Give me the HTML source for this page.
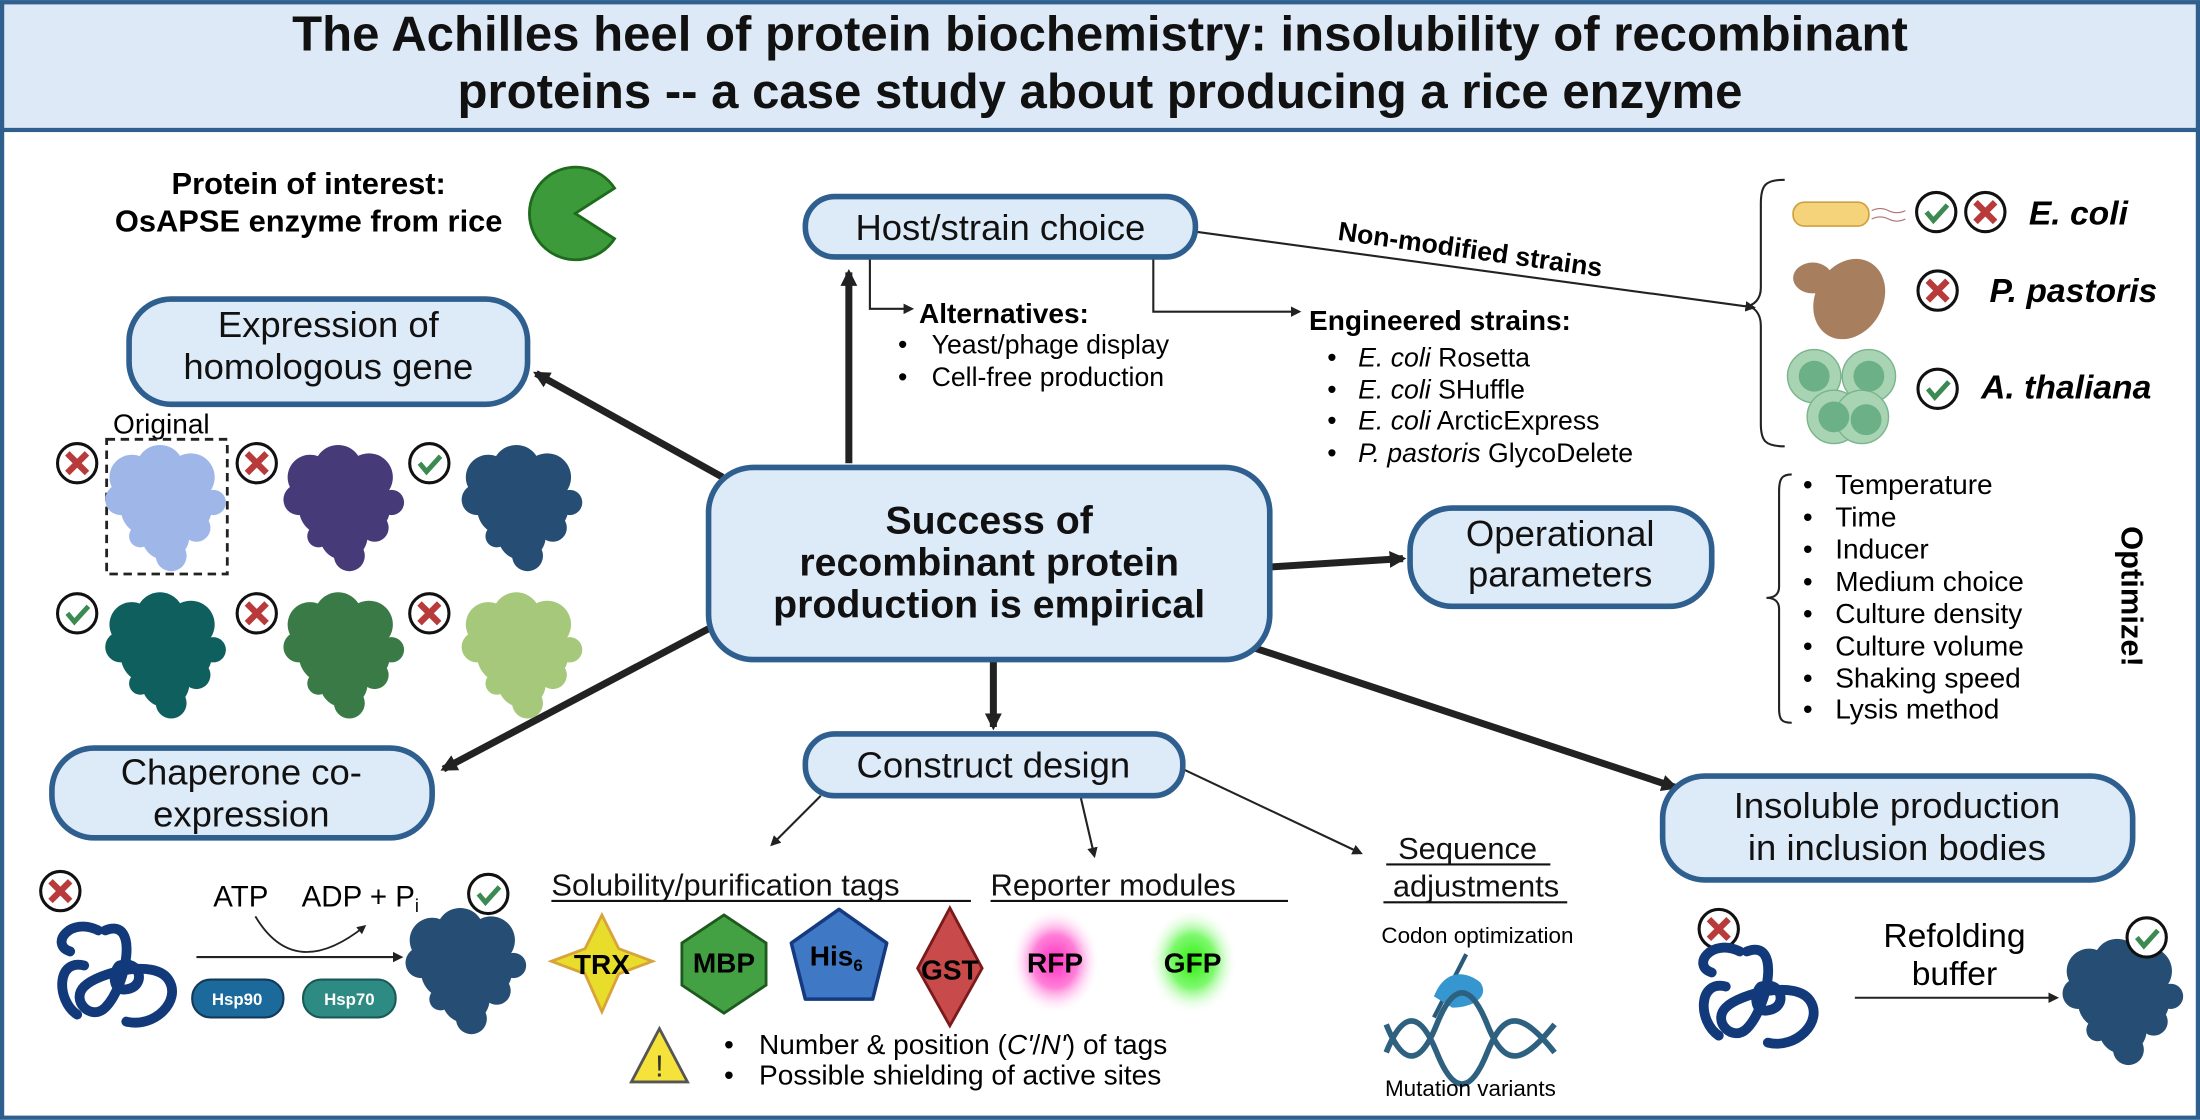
<!DOCTYPE html>
<html><head><meta charset="utf-8"><style>html,body{margin:0;padding:0;background:#fff}svg{display:block}text{font-family:"Liberation Sans",Arial,sans-serif}</style></head>
<body>
<svg width="2200" height="1120" viewBox="0 0 1568 798" xmlns="http://www.w3.org/2000/svg">
<defs>
<marker id="ah" viewBox="0 0 10 10" refX="8" refY="5" markerWidth="5" markerHeight="5" orient="auto"><path d="M0,0 L10,5 L0,10 z" fill="#222"/></marker>
<marker id="ahs" viewBox="0 0 10 10" refX="8" refY="5" markerWidth="12" markerHeight="12" markerUnits="userSpaceOnUse" orient="auto"><path d="M0,0 L10,5 L0,10 z" fill="#222"/></marker>
<g id="chk"><circle r="14" fill="#fff" stroke="#111" stroke-width="2.2"/><path d="M-7,0 L-2,6 L8,-5" fill="none" stroke="#3c8a52" stroke-width="3.5"/></g>
<g id="crs"><circle r="14" fill="#fff" stroke="#111" stroke-width="2.2"/><path d="M-7,-7 L7,7 M7,-7 L-7,7" stroke="#b83a3a" stroke-width="4.5"/></g>
<g id="blob"><circle cx="-24" cy="-22" r="16"/><circle cx="-4" cy="-28" r="17"/><circle cx="18" cy="-22" r="17"/><circle cx="34" cy="-4" r="9"/><circle cx="-32" cy="-6" r="11"/><circle cx="-12" cy="0" r="20"/><circle cx="14" cy="0" r="19"/><circle cx="0" cy="20" r="17"/><circle cx="4" cy="34" r="11"/><circle cx="22" cy="14" r="10"/><circle cx="-18" cy="20" r="8"/></g>
<g id="coil" fill="none" stroke="#123a7a" stroke-width="7" stroke-linecap="round"><path d="M-5,-30 C20,-40 10,10 -5,25 C-15,35 -30,20 -20,10 C-10,0 30,-10 40,5 C50,20 30,40 10,35 M-20,-5 C-40,-10 -40,20 -25,30 M-10,-30 C-30,-40 -45,-20 -30,-15 M5,-5 C20,-10 25,10 10,12 C0,14 0,0 5,-5"/></g>
</defs>
<rect x="1.5" y="1.5" width="1565" height="795" fill="#fff" stroke="#2e5f8f" stroke-width="3"/>
<rect x="1.5" y="1.5" width="1565" height="91" fill="#dde9f6" stroke="#2e5f8f" stroke-width="3"/>
<text x="784" y="36" text-anchor="middle" font-size="35" font-weight="bold" fill="#111">The Achilles heel of protein biochemistry: insolubility of recombinant</text>
<text x="784" y="77" text-anchor="middle" font-size="35" font-weight="bold" fill="#111">proteins -- a case study about producing a rice enzyme</text>

<g stroke="#222" stroke-width="5" marker-end="url(#ahs)" fill="none">
<line x1="605" y1="330" x2="605" y2="194"/>
<line x1="515" y1="340" x2="382" y2="266"/>
<line x1="505" y1="448" x2="316" y2="548"/>
<line x1="905" y1="404" x2="1000" y2="398"/>
<line x1="708" y1="470" x2="708" y2="518"/>
<line x1="895" y1="462" x2="1194" y2="561"/>
</g>
<g stroke="#222" stroke-width="1.5" fill="none" marker-end="url(#ah)">
<line x1="852" y1="165" x2="1250" y2="219"/>
<path d="M620,183 V220 H650"/>
<path d="M822,183 V222 H926"/>
<line x1="585" y1="567" x2="550" y2="602"/>
<line x1="770" y1="567" x2="780" y2="610"/>
<line x1="843" y1="548" x2="970" y2="608"/>
</g>

<g fill="#ddeaf8" stroke="#2e5f8f" stroke-width="4">
<rect x="574" y="140" width="278" height="43" rx="21"/>
<rect x="92" y="213" width="284" height="75" rx="30"/>
<rect x="505" y="333" width="400" height="137" rx="32"/>
<rect x="1005" y="362" width="215" height="70" rx="30"/>
<rect x="37" y="533" width="271" height="64" rx="30"/>
<rect x="574" y="523" width="269" height="44" rx="21"/>
<rect x="1185" y="553" width="335" height="74" rx="30"/>
</g>
<g fill="#111" font-size="26" text-anchor="middle">
<text x="713" y="171">Host/strain choice</text>
<text x="234" y="240">Expression of</text><text x="234" y="270">homologous gene</text>
<text x="1112" y="389">Operational</text><text x="1112" y="418">parameters</text>
<text x="172" y="559">Chaperone co-</text><text x="172" y="589">expression</text>
<text x="708" y="554">Construct design</text>
<text x="1352" y="583">Insoluble production</text><text x="1352" y="613">in inclusion bodies</text>
<g font-weight="bold" font-size="28"><text x="705" y="380">Success of</text><text x="705" y="410">recombinant protein</text><text x="705" y="440">production is empirical</text></g>
</g>

<text x="220" y="138" text-anchor="middle" font-size="22" font-weight="bold">Protein of interest:</text>
<text x="220" y="165" text-anchor="middle" font-size="22" font-weight="bold">OsAPSE enzyme from rice</text>
<path d="M410,152 L438,134 A33,33 0 1 0 438,170 Z" fill="#3d9a3a" stroke="#1e6b1e" stroke-width="2"/>

<text x="115" y="309" text-anchor="middle" font-size="20">Original</text>
<rect x="76" y="313" width="86" height="96" fill="none" stroke="#222" stroke-width="2" stroke-dasharray="6,4"/>
<use href="#blob" x="118" y="362" fill="#9fb6e8"/>
<use href="#blob" x="245" y="362" fill="#463a78"/>
<use href="#blob" x="372" y="362" fill="#264d73"/>
<use href="#blob" x="118" y="467" fill="#0f5f5e"/>
<use href="#blob" x="245" y="467" fill="#3a7a47"/>
<use href="#blob" x="372" y="467" fill="#a6c87a"/>
<use href="#crs" x="55" y="330"/><use href="#crs" x="183" y="330"/><use href="#chk" x="306" y="330"/>
<use href="#chk" x="55" y="437"/><use href="#crs" x="183" y="437"/><use href="#crs" x="306" y="437"/>

<use href="#crs" x="43" y="635"/>
<use href="#coil" x="80" y="693"/>
<line x1="140" y1="682" x2="286" y2="682" stroke="#222" stroke-width="1.5" marker-end="url(#ah)"/>
<path d="M182,653 Q210,700 260,660" fill="none" stroke="#222" stroke-width="1.3" marker-end="url(#ah)"/>
<text x="152" y="646" font-size="21">ATP</text><text x="215" y="646" font-size="21">ADP + P<tspan font-size="13" dy="4">i</tspan></text>
<rect x="137" y="698" width="65" height="27" rx="13" fill="#1b6a9b" stroke="#123a5a" stroke-width="1.5"/>
<rect x="216" y="698" width="66" height="27" rx="13" fill="#2e8b84" stroke="#1a5a56" stroke-width="1.5"/>
<text x="169" y="716" font-size="12" fill="#fff" text-anchor="middle" font-weight="bold">Hsp90</text>
<text x="249" y="716" font-size="12" fill="#fff" text-anchor="middle" font-weight="bold">Hsp70</text>
<use href="#blob" x="332" y="692" fill="#264d73"/>
<use href="#chk" x="348" y="637"/>

<g font-size="22" fill="#111">
<text x="393" y="638">Solubility/purification tags</text><line x1="393" y1="642" x2="692" y2="642" stroke="#111" stroke-width="1.5"/>
<text x="706" y="638">Reporter modules</text><line x1="706" y1="642" x2="918" y2="642" stroke="#111" stroke-width="1.5"/>
<text x="1046" y="612" text-anchor="middle">Sequence</text><line x1="988" y1="616" x2="1105" y2="616" stroke="#111" stroke-width="1.5"/>
<text x="1052" y="639" text-anchor="middle">adjustments</text><line x1="986" y1="643" x2="1117" y2="643" stroke="#111" stroke-width="1.5"/>
</g>
<path d="M429,652 L441,676 L465,685 L441,694 L429,721 L417,694 L393,685 L417,676 Z" fill="#e8dd2a" stroke="#d8a43a" stroke-width="2"/>
<text x="429" y="694" text-anchor="middle" font-size="20" font-weight="bold">TRX</text>
<path d="M516,652 L546,672 L546,702 L516,722 L486,702 L486,672 Z" fill="#43a043" stroke="#1e5a1e" stroke-width="2"/>
<text x="516" y="693" text-anchor="middle" font-size="20" font-weight="bold">MBP</text>
<path d="M598,648 L632,672 L622,712 L574,712 L564,672 Z" fill="#3f78c4" stroke="#163a80" stroke-width="2.5" stroke-linejoin="round"/>
<text x="596" y="688" text-anchor="middle" font-size="20" font-weight="bold">His<tspan font-size="12" dy="4">6</tspan></text>
<path d="M677,647 L700,690 L677,731 L654,690 Z" fill="#c84a4a" stroke="#7a1a1a" stroke-width="2"/>
<text x="677" y="698" text-anchor="middle" font-size="20" font-weight="bold">GST</text>
<defs>
<radialGradient id="rg"><stop offset="0" stop-color="#ff30c0"/><stop offset="0.5" stop-color="#ff80d8"/><stop offset="1" stop-color="#fff" stop-opacity="0"/></radialGradient>
<radialGradient id="gg"><stop offset="0" stop-color="#30f010"/><stop offset="0.5" stop-color="#80f870"/><stop offset="1" stop-color="#fff" stop-opacity="0"/></radialGradient>
</defs>
<ellipse cx="752" cy="685" rx="32" ry="38" fill="url(#rg)"/>
<ellipse cx="850" cy="685" rx="32" ry="38" fill="url(#gg)"/>
<text x="752" y="693" text-anchor="middle" font-size="20" font-weight="bold">RFP</text>
<text x="850" y="693" text-anchor="middle" font-size="20" font-weight="bold">GFP</text>
<path d="M470,733 L490,771 L450,771 Z" fill="#f5e23a" stroke="#555" stroke-width="2"/>
<text x="470" y="767" text-anchor="middle" font-size="22" fill="#333">!</text>
<g font-size="20"><text x="516" y="751">•</text><text x="541" y="751">Number &amp; position (<tspan font-style="italic">C'</tspan>/<tspan font-style="italic">N'</tspan>) of tags</text>
<text x="516" y="773">•</text><text x="541" y="773">Possible shielding of active sites</text></g>
<text x="1053" y="672" text-anchor="middle" font-size="16">Codon optimization</text>
<path d="M1022,725 L1045,680" stroke="#2a5a7a" stroke-width="3"/>
<path d="M1022,710 C1030,690 1045,692 1055,700 C1062,710 1050,718 1035,718 Z" fill="#3596d0"/>
<g fill="none" stroke="#2e6080" stroke-width="4"><path d="M988,730 C1000,760 1012,760 1024,730 S1048,700 1060,730 S1084,760 1108,730"/><path d="M988,750 C1000,720 1012,720 1024,750 S1048,780 1060,750 S1084,720 1108,750"/></g>
<text x="1048" y="781" text-anchor="middle" font-size="16">Mutation variants</text>

<text x="655" y="230" font-size="20" font-weight="bold">Alternatives:</text>
<g font-size="19"><text x="640" y="252">•</text><text x="664" y="252">Yeast/phage display</text><text x="640" y="275">•</text><text x="664" y="275">Cell-free production</text></g>
<text x="933" y="235" font-size="20" font-weight="bold">Engineered strains:</text>
<g font-size="19">
<text x="946" y="261">•</text><text x="968" y="261"><tspan font-style="italic">E. coli</tspan> Rosetta</text>
<text x="946" y="284">•</text><text x="968" y="284"><tspan font-style="italic">E. coli</tspan> SHuffle</text>
<text x="946" y="306">•</text><text x="968" y="306"><tspan font-style="italic">E. coli</tspan> ArcticExpress</text>
<text x="946" y="329">•</text><text x="968" y="329"><tspan font-style="italic">P. pastoris</tspan> GlycoDelete</text>
</g>
<text x="1047" y="184" font-size="19" font-weight="bold" text-anchor="middle" transform="rotate(8 1047 184)">Non-modified strains</text>

<path d="M1272,128 C1258,128 1255,132 1255,145 V205 C1255,213 1250,218 1244,218 C1250,218 1255,223 1255,232 V302 C1255,314 1258,318 1272,318" fill="none" stroke="#222" stroke-width="1.5"/>
<rect x="1278" y="144" width="54" height="17" rx="8" fill="#f5d37a" stroke="#d0a040" stroke-width="1.2"/>
<path d="M1334,150 q6,-3 12,0 t12,0 M1334,156 q6,-3 12,0 t12,0" fill="none" stroke="#b07070" stroke-width="0.8"/>
<use href="#chk" x="1380" y="151"/><use href="#crs" x="1415" y="151"/>
<text x="1446" y="160" font-size="24" font-weight="bold" font-style="italic">E. coli</text>
<ellipse cx="1292" cy="198" rx="14" ry="11" fill="#a87f5e"/>
<ellipse cx="1318" cy="213" rx="24" ry="30" fill="#a87f5e" transform="rotate(30 1318 213)"/>
<use href="#crs" x="1381" y="207"/>
<text x="1418" y="215" font-size="24" font-weight="bold" font-style="italic">P. pastoris</text>
<g fill="#a8d4b4" stroke="#7ab48c"><circle cx="1293" cy="268" r="19"/><circle cx="1332" cy="268" r="19"/><circle cx="1307" cy="297" r="19"/><circle cx="1327" cy="297" r="19"/></g>
<g fill="#6cb087"><circle cx="1293" cy="268" r="11"/><circle cx="1332" cy="268" r="11"/><circle cx="1307" cy="297" r="11"/><circle cx="1330" cy="299" r="11"/></g>
<use href="#chk" x="1381" y="277"/>
<text x="1412" y="284" font-size="24" font-weight="bold" font-style="italic">A. thaliana</text>

<path d="M1277,338 C1270,338 1268,341 1268,350 V418 C1268,424 1264,426 1259,426 C1264,426 1268,428 1268,434 V505 C1268,513 1270,515 1277,515" fill="none" stroke="#222" stroke-width="1.5"/>
<g font-size="20">
<text x="1285" y="352">•</text><text x="1308" y="352">Temperature</text>
<text x="1285" y="375">•</text><text x="1308" y="375">Time</text>
<text x="1285" y="398">•</text><text x="1308" y="398">Inducer</text>
<text x="1285" y="421">•</text><text x="1308" y="421">Medium choice</text>
<text x="1285" y="444">•</text><text x="1308" y="444">Culture density</text>
<text x="1285" y="467">•</text><text x="1308" y="467">Culture volume</text>
<text x="1285" y="490">•</text><text x="1308" y="490">Shaking speed</text>
<text x="1285" y="512">•</text><text x="1308" y="512">Lysis method</text>
</g>
<text x="1512" y="425" font-size="22" font-weight="bold" text-anchor="middle" transform="rotate(90 1512 425)">Optimize!</text>

<use href="#crs" x="1225" y="662"/>
<use href="#coil" x="1250" y="708"/>
<text x="1393" y="675" text-anchor="middle" font-size="24">Refolding</text>
<text x="1393" y="702" text-anchor="middle" font-size="24">buffer</text>
<line x1="1322" y1="711" x2="1466" y2="711" stroke="#222" stroke-width="1.5" marker-end="url(#ah)"/>
<use href="#blob" x="1513" y="714" fill="#264d73"/>
<use href="#chk" x="1530" y="668"/>
</svg>
</body></html>
